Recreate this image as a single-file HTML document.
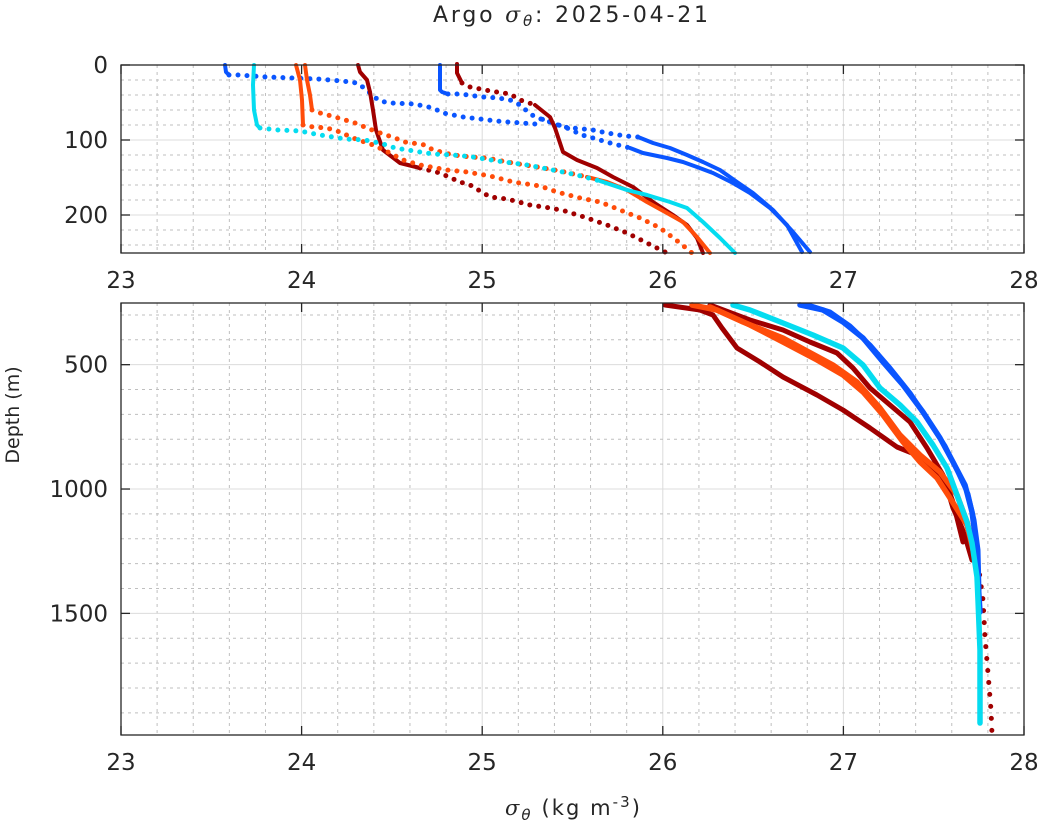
<!DOCTYPE html>
<html><head><meta charset="utf-8"><style>
html,body{margin:0;padding:0;background:#fff;}
svg{display:block;font-family:"DejaVu Sans","Liberation Sans",sans-serif;}
</style></head><body>
<svg id="s" width="1044" height="835" viewBox="0 0 1044 835" xmlns="http://www.w3.org/2000/svg">
<rect width="1044" height="835" fill="#fff"/>
<g id="grid"></g>
<g id="data" fill="none" stroke-linecap="round" stroke-linejoin="round"></g>
<g id="axes"></g>
<text x="433" y="22" font-size="22" fill="#262626" textLength="275" lengthAdjust="spacing">Argo <tspan font-style="italic" font-family="DejaVu Serif,serif">σ</tspan><tspan font-style="italic" font-size="15" dy="4">θ</tspan><tspan dy="-4">: 2025-04-21</tspan></text>
<text x="505" y="815" font-size="21" fill="#262626" textLength="135" lengthAdjust="spacing"><tspan font-style="italic" font-family="DejaVu Serif,serif">σ</tspan><tspan font-style="italic" font-size="15" dy="5">θ</tspan><tspan dy="-5"> (kg m</tspan><tspan font-size="15" dy="-8">-3</tspan><tspan dy="8">)</tspan></text>
<text transform="translate(19,415) rotate(-90)" font-size="19" text-anchor="middle" fill="#262626">Depth (m)</text>
</svg>
<script>
const NS="http://www.w3.org/2000/svg";
function el(p,t,a){const e=document.createElementNS(NS,t);for(const k in a)e.setAttribute(k,a[k]);p.appendChild(e);return e;}
const G=document.getElementById('grid'),A=document.getElementById('axes'),D=document.getElementById('data');
const X0=121,X1=1024;const xp=v=>X0+(v-23)*(X1-X0)/5;
function panel(y0,y1,ymap,minorYs,majorYs,labels){
  for(let v=23;v<=28.001;v+=0.2){const x=xp(v);const maj=Math.abs(v-Math.round(v))<1e-6;
    el(G,'line',{x1:x,x2:x,y1:y0,y2:y1,stroke:maj?'#dcdcdc':'#bfbfbf','stroke-width':1,'stroke-dasharray':maj?'':'3 4'});}
  minorYs.forEach(d=>{const y=ymap(d);el(G,'line',{x1:X0,x2:X1,y1:y,y2:y,stroke:'#bfbfbf','stroke-width':1,'stroke-dasharray':'3 4'});});
  majorYs.forEach(d=>{const y=ymap(d);el(G,'line',{x1:X0,x2:X1,y1:y,y2:y,stroke:'#dcdcdc','stroke-width':1});});
  el(A,'rect',{x:X0,y:y0,width:X1-X0,height:y1-y0,fill:'none',stroke:'#262626','stroke-width':1.3});
  for(let v=23;v<=28;v++){const x=xp(v);
    el(A,'line',{x1:x,x2:x,y1:y1,y2:y1-9,stroke:'#262626','stroke-width':1.3});
    el(A,'line',{x1:x,x2:x,y1:y0,y2:y0+9,stroke:'#262626','stroke-width':1.3});
    const t=el(A,'text',{x:x,y:y1+35,'font-size':23,'text-anchor':'middle',fill:'#262626'});t.textContent=v;}
  labels.forEach(d=>{const y=ymap(d);
    el(A,'line',{x1:X0,x2:X0+9,y1:y,y2:y,stroke:'#262626','stroke-width':1.3});
    el(A,'line',{x1:X1,x2:X1-9,y1:y,y2:y,stroke:'#262626','stroke-width':1.3});
    const t=el(A,'text',{x:X0-13,y:y+8,'font-size':23,'text-anchor':'end',fill:'#262626'});t.textContent=d;});
}
const ty=d=>65+d*0.75;
let mt=[];for(let d=20;d<250;d+=20)if(d%100)mt.push(d);
panel(65,253,ty,mt,[100,200],[0,100,200]);
const by=d=>303+(d-252)*0.2487;
let mb=[];for(let d=300;d<1980;d+=100)if(d%500)mb.push(d);
panel(303,735,by,mb,[500,1000,1500],[500,1000,1500]);
const C={b:'#0a55ff',c:'#05dcf0',o:'#ff4c0a',r:'#a00000'};
function line(c,pts,w,dash){const a={points:pts.map(p=>p.join(',')).join(' '),stroke:C[c],'stroke-width':w||4};if(dash)a['stroke-dasharray']=dash;el(D,'polyline',a);}
line('b',[[225,65],[226,72],[229,75]]);
line('b',[[229,75],[239,75],[266,77],[318,79],[342,81],[357,83],[367,90],[373,96],[380,101],[390,103],[414,104],[433,108],[443,113],[453,115],[463,117],[480,119],[496,121],[508,122],[535,124],[543,119],[553,123],[567,128],[582,135],[593,138],[610,143],[630,148]],5,'0 9');
line('b',[[630,148],[643,153],[667,158],[683,162],[697,167],[713,173],[733,183],[750,193],[770,208],[787,225],[802,252]],4);
line('b',[[440,65],[440,90],[442,92],[448,94]]);
line('b',[[448,94],[460,94],[483,97],[498,98],[510,100],[520,105],[528,112],[535,117],[550,122],[563,127],[593,130],[607,133],[625,136],[638,137]],5,'0 9');
line('b',[[638,137],[653,143],[670,148],[687,155],[703,162],[720,170],[737,182],[753,193],[773,210],[793,232],[810,252]],4);
line('r',[[358,65],[360,72],[367,80],[370,92],[373,110],[376,130],[383,150],[400,163],[420,168]]);
line('r',[[420,168],[440,173],[460,182],[470,185],[490,197],[507,199],[530,205],[550,208],[565,211],[587,218],[607,225],[627,233],[647,243],[667,253]],5,'0 9');
line('r',[[457,64],[457,73],[462,83]]);
line('r',[[462,83],[470,87],[490,91],[510,94],[520,100],[535,105]],5,'0 9');
line('r',[[535,105],[550,117],[555,128],[563,152],[577,160],[597,168],[613,177],[633,187],[653,202],[673,215],[687,225],[697,238],[703,253]]);
line('o',[[296,65],[300,80],[302,100],[303,125]]);
line('o',[[303,125],[313,127],[327,128],[340,132],[353,138],[373,145],[390,153],[403,160],[420,165],[447,170],[467,172],[490,176],[513,182],[540,186],[557,192],[580,198],[600,202],[620,210],[640,218],[660,228],[680,243],[692,253]],5,'0 9');
line('o',[[305,65],[307,80],[310,95],[312,110]]);
line('o',[[312,110],[320,113],[335,117],[355,123],[372,130],[383,134],[395,138],[405,142],[425,145],[433,150],[453,155],[470,157],[487,158],[507,162],[537,167],[560,171],[587,177]],5,'0 9');
line('o',[[587,177],[607,182],[627,190],[647,202],[667,213],[683,222],[697,237],[710,253]]);
line('c',[[254,65],[253,85],[254,110],[257,125],[260,128]]);
line('c',[[260,128],[278,130],[300,131],[320,135],[345,139],[365,140],[383,144],[395,148],[420,152],[433,154],[453,155],[473,157],[497,161],[527,165],[553,170],[577,175],[600,181]],5,'0 9');
line('c',[[600,181],[627,190],[647,195],[670,202],[687,208],[703,222],[720,238],[735,253]]);
line('r',[[665,305],[700,310],[713,315],[722,328],[737,348],[760,362],[783,377],[817,395],[843,410],[870,428],[897,447],[917,455],[933,470],[947,488],[953,508],[962,528],[967,543],[972,560]],5);
line('r',[[978,563],[983,600],[985,637],[988,673],[991,710],[992,734]],5,'0 12');
line('r',[[710,305],[750,320],[783,330],[810,342],[837,353],[853,368],[870,388],[890,405],[910,422],[927,448],[943,475],[953,502],[963,542]],5);
line('o',[[692,305],[717,310],[750,325],[783,342],[817,360],[843,375],[863,392],[883,415],[903,442],[920,462],[937,478],[950,498],[967,525],[973,550]],5.5);
line('o',[[710,307],[743,322],[783,338],[833,365],[857,382],[880,408],[900,435],[920,455],[940,472],[957,495],[967,522],[973,545]],5.5);
line('b',[[800,305],[823,310],[843,322],[863,338],[883,362],[903,385],[923,412],[940,438],[953,462],[965,485],[972,512],[976,542],[978,580],[980,612]],5.5);
line('b',[[808,305],[830,312],[850,326],[870,345],[890,368],[910,393],[928,420],[945,446],[957,470],[968,494],[974,520],[978,550],[979,590]],5);
line('c',[[733,305],[750,310],[783,323],[813,335],[843,348],[863,365],[880,388],[900,405],[917,422],[933,445],[947,468],[957,495],[967,522],[972,543],[977,577],[978,600],[980,650],[980,723]],5.5);
</script>
</body></html>
